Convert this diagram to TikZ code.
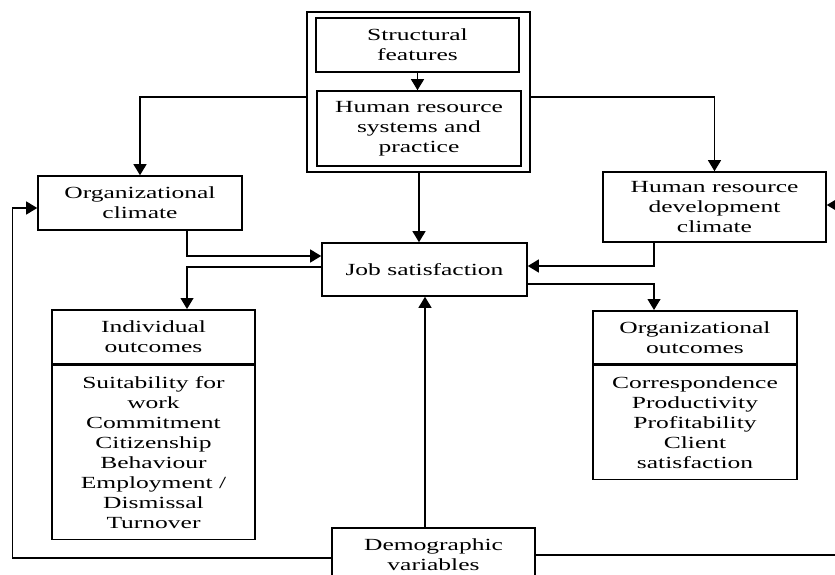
\documentclass[tikz,border=0pt]{standalone}
\usepackage{fontspec}
\setmainfont{Liberation Serif}[FakeStretch=1.5]
\usetikzlibrary{arrows.meta,positioning}

\begin{document}
\begin{tikzpicture}[x=1pt,y=-1pt,
  box/.style={draw,line width=1.6pt,align=center,inner sep=0pt,font=\fontsize{17}{20}\selectfont},
  link/.style={line width=1.2pt,-{Triangle[width=13pt,length=11pt]}}]
\clip (0,0) rectangle (835,575);
\node[box,minimum width=223pt,minimum height=160pt] (frame) at (418.5,92) {};
\foreach \name/\x/\y/\w/\h/\txt in {
  struct/417.5/45/203/54/{Structural\\features},
  hrsys/419/128.5/204/75/{Human resource\\systems and\\practice},
  orgclim/140/203/204/54/{Organizational\\climate},
  hrd/714.5/207/223/70/{Human resource\\development\\climate},
  jobsat/424.5/269.5/205/53/{Job satisfaction},
  demo/433.5/555/203/54/{Demographic\\variables}}{
  \node[box,minimum width=\w pt,minimum height=\h pt] (\name) at (\x,\y) {\txt};
}
% outcome boxes with header
\node[box,minimum width=203pt,minimum height=54pt,anchor=north] (indivh) at (153.5,309) {Individual\\outcomes};
\node[box,minimum width=203pt,minimum height=174pt,below=0pt of indivh] (indivb)
  {Suitability for\\work\\Commitment\\Citizenship\\Behaviour\\Employment /\\Dismissal\\Turnover};
\node[box,minimum width=204pt,minimum height=53pt,anchor=north] (orgouth) at (695,310) {Organizational\\outcomes};
\node[box,minimum width=204pt,minimum height=114pt,below=0pt of orgouth] (orgoutb)
  {Correspondence\\Productivity\\Profitability\\Client\\satisfaction};
% connectors
\draw[link] (struct.south) -- (struct.south |- hrsys.north);
\draw[link] ([yshift=-5pt]frame.west) -| (orgclim.north);
\draw[link] ([yshift=-5pt]frame.east) -| (hrd.north);
\draw[link] (hrsys.south |- frame.south) -- (hrsys.south |- jobsat.north);
\draw[link] ([xshift=47pt]orgclim.south) |- ([yshift=13.5pt]jobsat.west);
\draw[link] ([xshift=-60.5pt]hrd.south) |- ([yshift=3.5pt]jobsat.east);
\draw[link] ([yshift=2.5pt]jobsat.west) -| ([xshift=33.5pt]indivh.north);
\draw[link] ([yshift=-14.5pt]jobsat.east) -| ([xshift=-41pt]orgouth.north);
\coordinate (dtop) at ([xshift=-8.5pt]demo.north);
\draw[link] (dtop) -- (dtop |- jobsat.south);
\draw[link] ([yshift=-3pt]demo.west) -| ([xshift=-25pt,yshift=-5pt]orgclim.west) -- ([yshift=-5pt]orgclim.west);
\draw[link] (demo.east) -| ([xshift=12pt,yshift=2pt]hrd.east) -- ([yshift=2pt]hrd.east);
\end{tikzpicture}
\end{document}
